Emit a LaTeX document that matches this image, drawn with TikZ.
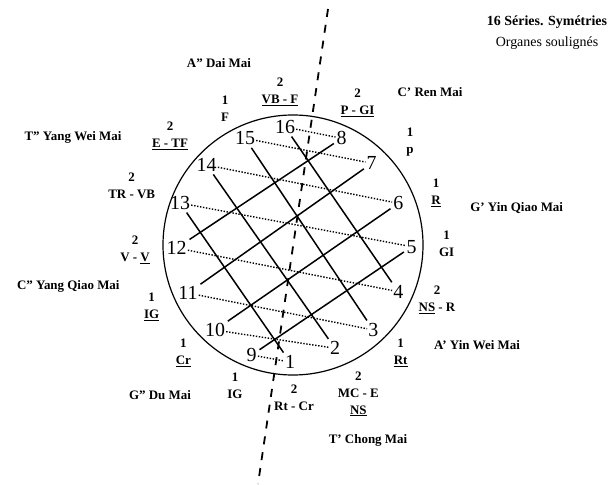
\documentclass[tikz,border=0pt]{standalone}
\usepackage{fontspec}
\setmainfont{Liberation Serif}
\begin{document}
\begin{tikzpicture}[x=1bp,y=-1bp,
  num/.style={font=\fontsize{20}{22}\selectfont, inner sep=1bp},
  lab/.style={font=\bfseries\fontsize{13}{17}\selectfont, align=center, inner sep=0pt},
  gridline/.style={line width=1.5bp, shorten <=2bp, shorten >=2bp},
  dotline/.style={line width=1.4bp, dash pattern=on 1.4bp off 1.6bp},
  axisline/.style={line width=1.8bp, dash pattern=on 8bp off 8bp},
  ringstyle/.style={circle, draw, line width=1.2bp, minimum size=260bp, inner sep=0pt}]
\useasboundingbox (0,0) rectangle (612,485);

% circle
\node[ringstyle] (ring) at (293,245) {};

% numbers
\node[num] (n16) at (285,127) {16};
\node[num] (n8)  at (341.7,138.3) {8};
\node[num] (n15) at (245,138.3) {15};
\node[num] (n7)  at (371.7,163.3) {7};
\node[num] (n14) at (206.7,165) {14};
\node[num] (n6)  at (398.3,203.3) {6};
\node[num] (n13) at (180,203) {13};
\node[num] (n5)  at (411.7,246.7) {5};
\node[num] (n12) at (176.7,248) {12};
\node[num] (n4)  at (398.3,291.7) {4};
\node[num] (n11) at (188,293) {11};
\node[num] (n3)  at (373.3,330) {3};
\node[num] (n10) at (215,330) {10};
\node[num] (n2)  at (335,348.3) {2};
\node[num] (n9)  at (251.7,355) {9};
\node[num] (n1)  at (290,362) {1};

% solid grid lines
\draw[gridline] (n12) -- (n8);
\draw[gridline] (n11) -- (n7);
\draw[gridline] (n10) -- (n6);
\draw[gridline] (n9)  -- (n5);
\draw[gridline] (n13) -- (n1);
\draw[gridline] (n14) -- (n2);
\draw[gridline] (n15) -- (n3);
\draw[gridline] (n16) -- (n4);

% dotted chords
\draw[dotline] (n16) -- (n8);
\draw[dotline] (n15) -- (n7);
\draw[dotline] (n14) -- (n6);
\draw[dotline] (n13) -- (n5);
\draw[dotline] (n12) -- (n4);
\draw[dotline] (n11) -- (n3);
\draw[dotline] (n10) -- (n2);
\draw[dotline] (n9)  -- (n1);

% dashed axis
\coordinate (axtop) at (328,9);
\coordinate (axbot) at (258,484);
\draw[axisline] (axtop) -- (axbot);

% labels
\node[lab] (l1)  at (219,63) {A” Dai Mai};
\node[lab] (l2)  at (280,92) {2\\\underline{VB - F}};
\node[lab] (l3)  at (225,109) {1\\F};
\node[lab] (l4)  at (357.5,102.5) {2\\\underline{P - GI}};
\node[lab] (l5)  at (430,92) {C’ Ren Mai};
\node[lab] (l6)  at (170,136) {2\\\underline{E - TF}};
\node[lab] (l7)  at (73,137) {T” Yang Wei Mai};
\node[lab] (l8)  at (410,141.7) {1\\p};
\node[lab] (l9)  at (131.7,186) {2\\TR - VB};
\node[lab] (l10) at (436,193) {1\\\underline{R}};
\node[lab] (l11) at (516.7,208) {G’ Yin Qiao Mai};
\node[lab] (l12) at (135,250) {2\\V - \underline{V}};
\node[lab] (l13) at (446.7,244) {1\\GI};
\node[lab] (l14) at (68.3,286.7) {C” Yang Qiao Mai};
\node[lab] (l15) at (437,300) {2\\\underline{NS} - R};
\node[lab] (l16) at (151.7,307) {1\\\underline{IG}};
\node[lab] (l17) at (183.3,352.5) {1\\\underline{Cr}};
\node[lab] (l18) at (400.7,352.5) {1\\\underline{Rt}};
\node[lab] (l19) at (477,345) {A’ Yin Wei Mai};
\node[lab] (l20) at (160,395) {G” Du Mai};
\node[lab] (l21) at (235,385.5) {1\\IG};
\node[lab] (l22) at (294,397.5) {2\\Rt - Cr};
\node[lab] (l23) at (358.3,394) {2\\MC - E\\\underline{NS}};
\node[lab] (l24) at (368,440) {T’ Chong Mai};

% title
\node[font=\bfseries\fontsize{14}{16}\selectfont, inner sep=0pt] (t1) at (547,22) {16 Séries. Symétries};
\node[font=\fontsize{14}{16}\selectfont, inner sep=0pt] (t2) at (547,43) {Organes soulignés};
\end{tikzpicture}
\end{document}
